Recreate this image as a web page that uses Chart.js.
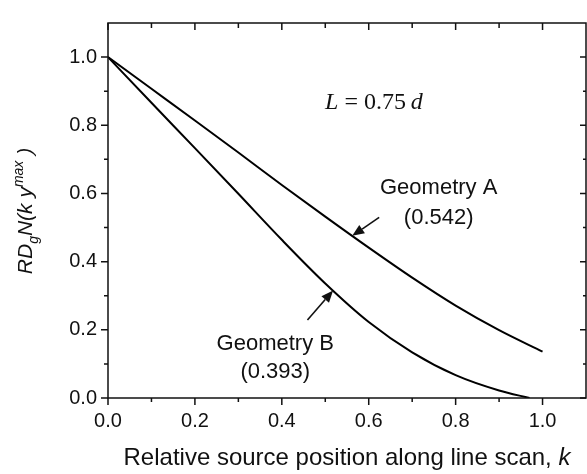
<!DOCTYPE html>
<html>
<head>
<meta charset="utf-8">
<script src="https://cdn.jsdelivr.net/npm/chart.js@4.4.1/dist/chart.umd.min.js"></script>
<style>
  html, body { margin: 0; padding: 0; background: #fff; }
  canvas { display: block; }
</style>
</head>
<body>
<canvas id="curveChart" width="587" height="474"></canvas>
<script>
// relative source position k and normalised response for both geometries
const kA = [0, 0.1, 0.2, 0.3, 0.4, 0.5, 0.6, 0.7, 0.8, 0.9, 1.0];
const geomA = [1.0, 0.907, 0.814, 0.72, 0.625, 0.532, 0.441, 0.353, 0.271, 0.199, 0.136];
const kB = [0, 0.1, 0.2, 0.3, 0.4, 0.5, 0.6, 0.7, 0.8, 0.9, 0.97];
const geomB = [1.0, 0.866, 0.733, 0.599, 0.464, 0.336, 0.223, 0.134, 0.067, 0.022, 0.0];

const majorTicks = [0, 0.2, 0.4, 0.6, 0.8, 1.0];
const minorTicks = [0.1, 0.3, 0.5, 0.7, 0.9];

const SANS = '"Liberation Sans", Arial, sans-serif';
const SERIF = '"Liberation Serif", "Times New Roman", serif';

// where the pointer arrows start (data units); tips sit on the curves
const arrowA = { tailK: 0.624, tailV: 0.530, tipK: 0.562 };
const arrowB = { tailK: 0.459, tailV: 0.229, tipK: 0.518 };

function toPoints(ks, vs) {
    return ks.map((k, i) => ({ x: k, y: vs[i] }));
}

// linear lookup along a series, used to put arrow tips on the line
function valueAt(ks, vs, k) {
    for (let i = 1; i < ks.length; i++) {
        if (k <= ks[i]) {
            const t = (k - ks[i - 1]) / (ks[i] - ks[i - 1]);
            return vs[i - 1] + t * (vs[i] - vs[i - 1]);
        }
    }
    return vs[vs.length - 1];
}

function drawArrow(ctx, x0, y0, x1, y1) {
    const ang = Math.atan2(y1 - y0, x1 - x0);
    const len = 12, half = 5;
    const bx = x1 - len * Math.cos(ang);
    const by = y1 - len * Math.sin(ang);
    ctx.beginPath();
    ctx.moveTo(x0, y0);
    ctx.lineTo(bx, by);
    ctx.stroke();
    ctx.beginPath();
    ctx.moveTo(x1, y1);
    ctx.lineTo(bx + half * Math.sin(ang), by - half * Math.cos(ang));
    ctx.lineTo(bx - half * Math.sin(ang), by + half * Math.cos(ang));
    ctx.closePath();
    ctx.fill();
}

// draws a run of [text, font, dy] pieces centred on 0
function drawRun(ctx, pieces) {
    let total = 0;
    pieces.forEach(p => { ctx.font = p[1]; total += ctx.measureText(p[0]).width; });
    let x = -total / 2;
    pieces.forEach(p => {
        ctx.font = p[1];
        ctx.fillText(p[0], x, p[2] || 0);
        x += ctx.measureText(p[0]).width;
    });
}

const framePlugin = {
    id: 'framePlugin',
    afterDraw(chart) {
        const { ctx, chartArea: a, scales: { x, y } } = chart;
        ctx.save();
        ctx.strokeStyle = '#111';
        ctx.fillStyle = '#111';
        ctx.lineWidth = 1.5;
        ctx.strokeRect(a.left, a.top, a.right - a.left, a.bottom - a.top);

        // ticks: outward on left/bottom, inward on top/right
        ctx.beginPath();
        majorTicks.forEach(v => {
            const px = x.getPixelForValue(v), py = y.getPixelForValue(v);
            ctx.moveTo(px, a.bottom); ctx.lineTo(px, a.bottom + 7);
            ctx.moveTo(px, a.top); ctx.lineTo(px, a.top + 7);
            ctx.moveTo(a.left, py); ctx.lineTo(a.left - 7, py);
            ctx.moveTo(a.right, py); ctx.lineTo(a.right - 6, py);
        });
        minorTicks.forEach(v => {
            const px = x.getPixelForValue(v), py = y.getPixelForValue(v);
            ctx.moveTo(px, a.bottom); ctx.lineTo(px, a.bottom + 4);
            ctx.moveTo(px, a.top); ctx.lineTo(px, a.top + 5);
            ctx.moveTo(a.left, py); ctx.lineTo(a.left - 4, py);
            ctx.moveTo(a.right, py); ctx.lineTo(a.right - 3, py);
        });
        ctx.stroke();

        // arrows
        ctx.lineWidth = 1.6;
        [[arrowA, kA, geomA], [arrowB, kB, geomB]].forEach(([ar, ks, vs]) => {
            drawArrow(ctx,
                x.getPixelForValue(ar.tailK), y.getPixelForValue(ar.tailV),
                x.getPixelForValue(ar.tipK), y.getPixelForValue(valueAt(ks, vs, ar.tipK)));
        });

        // curve labels
        ctx.textAlign = 'center';
        ctx.textBaseline = 'alphabetic';
        ctx.font = '22px ' + SANS;
        ctx.fillText('Geometry A', x.getPixelForValue(0.761), y.getPixelForValue(0.598));
        ctx.fillText('(0.542)', x.getPixelForValue(0.761), y.getPixelForValue(0.510));
        ctx.fillText('Geometry B', x.getPixelForValue(0.385), y.getPixelForValue(0.142));
        ctx.fillText('(0.393)', x.getPixelForValue(0.385), y.getPixelForValue(0.059));

        // L = 0.75 d
        ctx.textAlign = 'left';
        ctx.save();
        ctx.translate(x.getPixelForValue(0.612), y.getPixelForValue(0.847));
        drawRun(ctx, [
            ['L', 'italic 24px ' + SERIF],
            [' = 0.75\u2009', '24px ' + SERIF],
            ['d', 'italic 24px ' + SERIF]
        ]);
        ctx.restore();

        // x axis title
        ctx.save();
        ctx.translate((a.left + a.right) / 2, 465);
        drawRun(ctx, [
            ['Relative source position along line scan, ', '24px ' + SANS],
            ['k', 'italic 24px ' + SANS]
        ]);
        ctx.restore();

        // y axis title with sub/superscripts
        ctx.save();
        ctx.translate(32, 211);
        ctx.rotate(-Math.PI / 2);
        const big = 'italic 21px ' + SANS, small = 'italic 14px ' + SANS;
        drawRun(ctx, [
            ['RD', big], ['g', small, 6], ['N(k y', big], ['max', small, -9], [' )', big]
        ]);
        ctx.restore();

        ctx.restore();
    }
};

const lineStyle = {
    showLine: true,
    borderColor: '#000',
    borderWidth: 2,
    pointRadius: 0,
    fill: false,
    cubicInterpolationMode: 'monotone'
};

new Chart(document.getElementById('curveChart'), {
    type: 'scatter',
    data: {
        datasets: [
            Object.assign({ label: 'Geometry A', data: toPoints(kA, geomA) }, lineStyle),
            Object.assign({ label: 'Geometry B', data: toPoints(kB, geomB) }, lineStyle)
        ]
    },
    options: {
        responsive: false,
        animation: false,
        layout: { padding: { top: 10, right: 1, left: 0, bottom: 0 } },
        plugins: {
            legend: { display: false },
            tooltip: { enabled: false }
        },
        scales: {
            x: {
                type: 'linear',
                min: 0,
                max: 1.1,
                grid: { display: false, drawTicks: false },
                border: { display: false },
                ticks: {
                    stepSize: 0.2,
                    includeBounds: false,
                    padding: 11,
                    color: '#111',
                    font: { family: SANS, size: 20 },
                    callback: v => v.toFixed(1)
                },
                afterFit: s => { s.height = 76; }
            },
            y: {
                type: 'linear',
                min: 0,
                max: 1.1,
                grid: { display: false, drawTicks: false },
                border: { display: false },
                ticks: {
                    stepSize: 0.2,
                    includeBounds: false,
                    padding: 11,
                    color: '#111',
                    font: { family: SANS, size: 20 },
                    callback: v => v.toFixed(1)
                },
                afterFit: s => { s.width = 108; }
            }
        }
    },
    plugins: [framePlugin]
});
</script>
</body>
</html>
